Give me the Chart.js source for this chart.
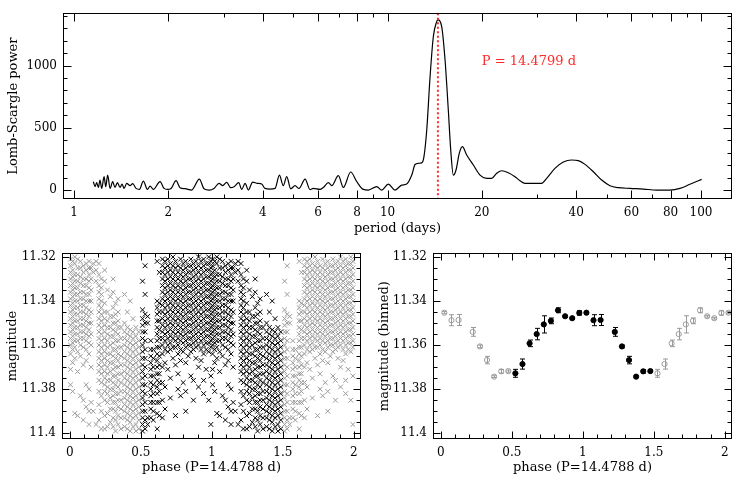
<!DOCTYPE html>
<html>
<head>
    <title>Lomb-Scargle periodogram and phased light curve</title>
    <script src="https://cdn.jsdelivr.net/npm/chart.js"></script>
    <style>
        body {
            margin: 0;
            background: #fff;
            width: 743px;
            height: 486px;
            position: relative;
            overflow: hidden;
        }
        canvas { position: absolute; }
        #periodogram { left: 0; top: 0; }
        #phased { left: 0; top: 240px; }
        #binned { left: 372px; top: 240px; }
    </style>
</head>
<body>
    <canvas id="periodogram" width="743" height="240"></canvas>
    <canvas id="phased" width="372" height="246"></canvas>
    <canvas id="binned" width="371" height="246"></canvas>

    <script>
        // Lomb-Scargle periodogram
        const periodDays = [1.152, 1.167, 1.181, 1.196, 1.210, 1.225, 1.247, 1.262, 1.280, 1.303, 1.328, 1.351, 1.375, 1.402, 1.423, 1.444,
            1.472, 1.509, 1.539, 1.577, 1.616, 1.664, 1.714, 1.748, 1.791, 1.881, 1.937, 1.985, 2.039, 2.116, 2.178, 2.261, 2.373,
            2.510, 2.598, 2.702, 2.796, 2.901, 2.981, 3.069, 3.160, 3.238, 3.353, 3.427, 3.512, 3.598, 3.714, 3.844, 3.968, 4.067,
            4.219, 4.377, 4.52, 4.65, 4.77, 4.91, 5.07, 5.22, 5.46, 5.66, 5.80, 6.09, 6.24, 6.48, 6.64, 6.97, 7.23, 7.63, 7.98,
            8.37, 8.69, 9.24, 9.58, 10.06, 10.57, 11.10, 11.51, 11.95, 12.24, 12.55, 12.90, 13.07, 13.34, 13.67, 14.00, 14.35,
            14.48, 14.89, 15.26, 15.63, 15.91, 16.22, 16.54, 16.94, 17.33, 17.89, 18.79, 19.73, 20.72, 21.49, 22.30, 23.13, 24.29,
            25.51, 26.46, 27.45, 29.19, 31.02, 32.19, 34.21, 36.38, 38.67, 40.61, 42.66, 45.36, 48.22, 51.25, 54.48, 59.36, 65.46,
            72.24, 79.63, 85.7, 92.2, 100.5];
        const lsPower = [67, 27, 59, 21, 80, 13, 107, 27, 120, 13, 67, 21, 59, 21, 48, 13,
            54, 35, 51, 13, 5, 72, 5, 32, 5, 67, 13, 5, 13, 75, 19, 11, 0,
            88, 11, 0, 13, 54, 35, 62, 19, 27, 59, 5, 54, 0, 64, 54, 48, 13,
            8, 13, 120, 35, 108, 10, 35, 13, 88, 3, 13, 5, 21, 59, 35, 115, 21, 145, 67,
            5, 0, 27, 0, 48, 0, 40, 48, 120, 205, 215, 222, 268, 482, 910, 1231, 1352,
            1366, 1312, 1044, 642, 321, 120, 161, 294, 348, 281, 201, 120, 94, 94, 134, 155, 139,
            107, 75, 54, 54, 54, 94, 174, 225, 241, 236, 206, 147, 80, 35, 19, 13, 8,
            0, 0, 13, 46, 86];
        const peakPeriod = 14.4799;
        const labelAt = [20.0, 1030];

        const periodTicks = [1, 2, 4, 6, 8, 10, 20, 40, 60, 80, 100];
        const periodTickLabels = ['1', '2', '4', '6', '8', '10', '20', '40', '60', '80', '100'];
        const periodMinorTicks = [3, 5, 7, 9, 30, 50, 70, 90];
        const powerTicks = [0, 500, 1000];
        const powerTickLabels = ['0', '500', '1000'];
        const powerMinorTicks = [100, 200, 300, 400, 600, 700, 800, 900, 1100, 1200, 1300, 1400];

        // phased light curve, P = 14.4788 d: one streak of points per night
        const foldPeriod = 14.4788;
        const nightPhase = [0.005, 0.020, 0.035, 0.055, 0.075, 0.095, 0.115, 0.135, 0.150, 0.165, 0.185,
            0.205, 0.222, 0.245, 0.265, 0.285, 0.305, 0.322, 0.340, 0.360, 0.385, 0.405, 0.425, 0.445, 0.465, 0.485,
            0.512, 0.530, 0.548, 0.570, 0.588, 0.615, 0.630, 0.652, 0.670, 0.690, 0.708, 0.726, 0.744, 0.762, 0.780,
            0.798, 0.816, 0.834, 0.852, 0.870, 0.888, 0.906, 0.924, 0.942, 0.960, 0.978, 0.993];
        const nightMag = [
            [11.321, 11.324, 11.327, 11.330, 11.333, 11.336, 11.339, 11.342, 11.345, 11.348, 11.351, 11.354, 11.357, 11.360, 11.364, 11.371, 11.378],
            [11.322, 11.326, 11.329, 11.332, 11.335, 11.338, 11.341, 11.344, 11.347, 11.350, 11.353, 11.356, 11.359, 11.362, 11.368, 11.381],
            [11.320, 11.323, 11.328, 11.331, 11.334, 11.337, 11.340, 11.343, 11.346, 11.349, 11.352, 11.355, 11.358, 11.361, 11.366, 11.391],
            [11.321, 11.325, 11.328, 11.331, 11.334, 11.337, 11.340, 11.343, 11.346, 11.349, 11.352, 11.355, 11.358, 11.363, 11.372, 11.392],
            [11.322, 11.325, 11.329, 11.332, 11.336, 11.339, 11.342, 11.345, 11.348, 11.351, 11.354, 11.357, 11.360, 11.365, 11.383],
            [11.324, 11.327, 11.330, 11.333, 11.336, 11.339, 11.342, 11.345, 11.348, 11.351, 11.354, 11.357, 11.361, 11.369, 11.385, 11.394],
            [11.323, 11.326, 11.330, 11.333, 11.337, 11.340, 11.343, 11.346, 11.349, 11.352, 11.355, 11.358, 11.362, 11.367, 11.378, 11.388],
            [11.322, 11.325, 11.328, 11.331, 11.334, 11.337, 11.340, 11.344, 11.347, 11.350, 11.353, 11.356, 11.359, 11.364, 11.380, 11.390, 11.396],
            [11.325, 11.330, 11.335, 11.340, 11.345, 11.350, 11.355, 11.360, 11.370, 11.386],
            [11.323, 11.327, 11.390],
            [11.322, 11.326, 11.331, 11.396],
            [11.323, 11.328, 11.333, 11.336, 11.339, 11.342, 11.345, 11.348, 11.351, 11.354, 11.357, 11.360, 11.363, 11.366, 11.369, 11.372, 11.376, 11.381, 11.387, 11.394],
            [11.330, 11.334, 11.337, 11.340, 11.343, 11.346, 11.349, 11.352, 11.355, 11.358, 11.361, 11.364, 11.367, 11.370, 11.373, 11.377, 11.383, 11.390, 11.398],
            [11.326, 11.331, 11.341, 11.345, 11.348, 11.351, 11.354, 11.357, 11.360, 11.363, 11.366, 11.369, 11.372, 11.375, 11.378, 11.381, 11.385, 11.392, 11.398],
            [11.335, 11.345, 11.349, 11.352, 11.355, 11.358, 11.361, 11.364, 11.367, 11.370, 11.373, 11.376, 11.379, 11.382, 11.386, 11.391, 11.397],
            [11.338, 11.347, 11.352, 11.356, 11.360, 11.364, 11.368, 11.372, 11.376, 11.380, 11.384, 11.389, 11.395],
            [11.330, 11.336, 11.343, 11.347, 11.350, 11.353, 11.356, 11.359, 11.362, 11.365, 11.368, 11.371, 11.374, 11.377, 11.380, 11.383, 11.386, 11.389, 11.393, 11.397],
            [11.341, 11.346, 11.350, 11.354, 11.358, 11.362, 11.366, 11.370, 11.374, 11.378, 11.382, 11.386, 11.390, 11.394, 11.399],
            [11.339, 11.345, 11.349, 11.352, 11.355, 11.358, 11.361, 11.364, 11.367, 11.370, 11.373, 11.376, 11.379, 11.382, 11.385, 11.388, 11.392, 11.396],
            [11.352, 11.357, 11.361, 11.365, 11.369, 11.373, 11.377, 11.381, 11.385, 11.389, 11.393, 11.398],
            [11.337, 11.350, 11.354, 11.357, 11.360, 11.363, 11.366, 11.369, 11.372, 11.375, 11.378, 11.381, 11.384, 11.387, 11.390, 11.393, 11.397],
            [11.345, 11.352, 11.355, 11.358, 11.361, 11.364, 11.367, 11.370, 11.373, 11.376, 11.379, 11.382, 11.385, 11.388, 11.391, 11.394, 11.398],
            [11.340, 11.353, 11.356, 11.359, 11.362, 11.365, 11.368, 11.371, 11.374, 11.377, 11.380, 11.383, 11.386, 11.389, 11.392, 11.395, 11.399],
            [11.348, 11.354, 11.357, 11.360, 11.363, 11.366, 11.369, 11.372, 11.375, 11.378, 11.381, 11.384, 11.387, 11.390, 11.393, 11.397],
            [11.352, 11.356, 11.359, 11.362, 11.365, 11.368, 11.371, 11.374, 11.377, 11.380, 11.383, 11.386, 11.389, 11.392, 11.396, 11.399],
            [11.354, 11.358, 11.361, 11.364, 11.367, 11.370, 11.373, 11.376, 11.379, 11.382, 11.385, 11.388, 11.391, 11.394, 11.398],
            [11.331, 11.344, 11.348, 11.351, 11.354, 11.357, 11.360, 11.363, 11.366, 11.369, 11.372, 11.375, 11.378, 11.381, 11.384, 11.387, 11.390, 11.393, 11.396, 11.399],
            [11.324, 11.337, 11.346, 11.350, 11.354, 11.358, 11.362, 11.366, 11.370, 11.374, 11.378, 11.382, 11.386, 11.390, 11.394, 11.398],
            [11.347, 11.350, 11.393, 11.396],
            [11.358, 11.362, 11.365, 11.368, 11.371, 11.374, 11.377, 11.380, 11.383, 11.386, 11.389, 11.393],
            [11.362, 11.366, 11.370, 11.374, 11.378, 11.382, 11.386, 11.390, 11.394],
            [11.322, 11.340, 11.343, 11.346, 11.349, 11.352, 11.355, 11.358, 11.361, 11.364, 11.367, 11.370, 11.373, 11.376, 11.379, 11.382, 11.386, 11.391, 11.398],
            [11.327, 11.341, 11.345, 11.349, 11.353, 11.357, 11.361, 11.365, 11.369, 11.373, 11.377, 11.381, 11.386, 11.392],
            [11.321, 11.324, 11.327, 11.330, 11.333, 11.336, 11.339, 11.342, 11.345, 11.348, 11.351, 11.354, 11.357, 11.360, 11.364, 11.370, 11.377, 11.385, 11.393],
            [11.322, 11.325, 11.328, 11.331, 11.334, 11.337, 11.340, 11.343, 11.346, 11.349, 11.352, 11.355, 11.358, 11.362, 11.368, 11.379, 11.389],
            [11.321, 11.324, 11.327, 11.330, 11.333, 11.336, 11.339, 11.342, 11.345, 11.348, 11.351, 11.354, 11.357, 11.360, 11.363, 11.371],
            [11.323, 11.326, 11.329, 11.332, 11.335, 11.338, 11.341, 11.344, 11.347, 11.350, 11.353, 11.356, 11.359, 11.362, 11.375, 11.384],
            [11.320, 11.324, 11.327, 11.330, 11.333, 11.336, 11.339, 11.342, 11.345, 11.348, 11.351, 11.354, 11.357, 11.361, 11.366],
            [11.322, 11.325, 11.328, 11.331, 11.334, 11.337, 11.340, 11.343, 11.346, 11.349, 11.352, 11.355, 11.358, 11.361, 11.369, 11.392],
            [11.324, 11.327, 11.330, 11.333, 11.336, 11.339, 11.342, 11.345, 11.348, 11.351, 11.354, 11.357, 11.360, 11.364, 11.373, 11.380],
            [11.321, 11.325, 11.328, 11.331, 11.334, 11.337, 11.340, 11.343, 11.346, 11.349, 11.352, 11.355, 11.358, 11.362, 11.367, 11.383],
            [11.323, 11.326, 11.329, 11.332, 11.335, 11.338, 11.341, 11.344, 11.347, 11.350, 11.353, 11.356, 11.359, 11.363, 11.377],
            [11.322, 11.325, 11.328, 11.331, 11.334, 11.337, 11.340, 11.343, 11.346, 11.349, 11.352, 11.355, 11.358, 11.361, 11.368, 11.381, 11.390],
            [11.324, 11.327, 11.330, 11.333, 11.336, 11.339, 11.342, 11.345, 11.348, 11.351, 11.354, 11.357, 11.360, 11.365],
            [11.321, 11.324, 11.327, 11.330, 11.333, 11.336, 11.339, 11.342, 11.345, 11.348, 11.351, 11.354, 11.357, 11.360, 11.363, 11.374],
            [11.323, 11.326, 11.329, 11.332, 11.335, 11.338, 11.341, 11.344, 11.347, 11.350, 11.353, 11.356, 11.359, 11.362, 11.376, 11.385],
            [11.322, 11.325, 11.328, 11.331, 11.334, 11.337, 11.340, 11.343, 11.346, 11.349, 11.352, 11.355, 11.358, 11.361, 11.366],
            [11.320, 11.324, 11.327, 11.330, 11.333, 11.336, 11.339, 11.342, 11.345, 11.348, 11.351, 11.354, 11.357, 11.360, 11.370, 11.379],
            [11.322, 11.325, 11.328, 11.331, 11.334, 11.337, 11.340, 11.343, 11.346, 11.349, 11.352, 11.355, 11.358, 11.362, 11.367],
            [11.321, 11.324, 11.327, 11.330, 11.333, 11.336, 11.339, 11.342, 11.345, 11.348, 11.351, 11.354, 11.357, 11.360, 11.364, 11.376, 11.382],
            [11.323, 11.326, 11.329, 11.332, 11.335, 11.338, 11.341, 11.344, 11.347, 11.350, 11.353, 11.356, 11.359, 11.362, 11.371],
            [11.320, 11.323, 11.326, 11.329, 11.332, 11.335, 11.338, 11.341, 11.344, 11.347, 11.350, 11.353, 11.356, 11.359, 11.363, 11.385],
            [11.322, 11.325, 11.328, 11.331, 11.334, 11.337, 11.340, 11.343, 11.346, 11.349, 11.352, 11.355, 11.358, 11.361, 11.374, 11.396]
        ];

        // binned light curve (bins of 0.05 in phase, none at 0.175)
        const binPhase = [0.025, 0.075, 0.125, 0.225, 0.275, 0.325, 0.375, 0.425, 0.475,
            0.525, 0.575, 0.625, 0.675, 0.725, 0.775, 0.825, 0.875, 0.925, 0.975];
        const binMag = [11.3453, 11.3487, 11.3486, 11.3540, 11.3606, 11.3668, 11.3743, 11.3719, 11.3718,
            11.3728, 11.3686, 11.3592, 11.3550, 11.3506, 11.3490, 11.3442, 11.3469, 11.3478, 11.3454];
        const binErr = [0.0005, 0.0025, 0.0025, 0.0020, 0.0006, 0.0017, 0.0004, 0.0008, 0.0005,
            0.0018, 0.0023, 0.0015, 0.0026, 0.0039, 0.0013, 0.0011, 0.0004, 0.0004, 0.0010];

        const phaseMin = -0.055, phaseMax = 2.05;
        const phaseTicks = [0, 0.5, 1, 1.5, 2];
        const phaseTickLabels = ['0', '0.5', '1', '1.5', '2'];
        const phaseMinorTicks = [0.1, 0.2, 0.3, 0.4, 0.6, 0.7, 0.8, 0.9, 1.1, 1.2, 1.3, 1.4, 1.6, 1.7, 1.8, 1.9];
        const magTicks = [11.32, 11.34, 11.36, 11.38, 11.4];
        const magTickLabels = ['11.32', '11.34', '11.36', '11.38', '11.4'];
        const magMinorTicks = [11.325, 11.33, 11.335, 11.345, 11.35, 11.355, 11.365, 11.37, 11.375, 11.385, 11.39, 11.395];

        const GREY = '#9a9a9a';
        const RED = '#ff2a2a';

        Chart.defaults.font.family = '"DejaVu Serif", serif';
        Chart.defaults.color = '#000';

        // box round the plot with inward ticks on all four sides
        function frame(spec) {
            return {
                id: 'frame',
                afterDraw(chart) {
                    const { ctx, chartArea: a, scales: { x, y } } = chart;
                    const L = Math.round(a.left) + 0.5, R = Math.round(a.right) - 0.5;
                    const T = Math.round(a.top) + 0.5, B = Math.round(a.bottom) - 0.5;
                    ctx.save();
                    ctx.strokeStyle = '#000';
                    ctx.lineWidth = 1;
                    ctx.strokeRect(L, T, R - L, B - T);
                    ctx.beginPath();
                    const xt = (v, len) => {
                        const px = Math.round(x.getPixelForValue(v)) + 0.5;
                        ctx.moveTo(px, B); ctx.lineTo(px, B - len);
                        ctx.moveTo(px, T); ctx.lineTo(px, T + len);
                    };
                    const yt = (v, len) => {
                        const py = Math.round(y.getPixelForValue(v)) + 0.5;
                        ctx.moveTo(L, py); ctx.lineTo(L + len, py);
                        ctx.moveTo(R, py); ctx.lineTo(R - len, py);
                    };
                    spec.xMajor.forEach(v => xt(v, spec.major));
                    spec.xMinor.forEach(v => xt(v, spec.minor));
                    spec.yMajor.forEach(v => yt(v, spec.major));
                    spec.yMinor.forEach(v => yt(v, spec.minor));
                    ctx.stroke();
                    ctx.restore();
                }
            };
        }

        const periodMarker = {
            id: 'periodMarker',
            afterDatasetsDraw(chart) {
                const { ctx, chartArea: a, scales: { x, y } } = chart;
                const px = x.getPixelForValue(peakPeriod);
                ctx.save();
                ctx.strokeStyle = RED;
                ctx.lineWidth = 2;
                ctx.setLineDash([2, 2.5]);
                ctx.beginPath();
                ctx.moveTo(px, a.top);
                ctx.lineTo(px, a.bottom);
                ctx.stroke();
                ctx.fillStyle = RED;
                ctx.font = '13px "DejaVu Serif", serif';
                ctx.textBaseline = 'middle';
                ctx.fillText(`P = ${peakPeriod} d`, x.getPixelForValue(labelAt[0]), y.getPixelForValue(labelAt[1]));
                ctx.restore();
            }
        };

        const errorBars = {
            id: 'errorBars',
            beforeDatasetsDraw(chart) {
                const { ctx, scales: { x, y } } = chart;
                ctx.save();
                ctx.lineWidth = 1;
                chart.data.datasets.forEach(ds => {
                    ctx.strokeStyle = ds.borderColor;
                    ctx.beginPath();
                    ds.data.forEach(p => {
                        const px = Math.round(x.getPixelForValue(p.x)) + 0.5;
                        const y1 = y.getPixelForValue(p.y - p.e), y2 = y.getPixelForValue(p.y + p.e);
                        ctx.moveTo(px, y1); ctx.lineTo(px, y2);
                        ctx.moveTo(px - 2.5, y1); ctx.lineTo(px + 2.5, y1);
                        ctx.moveTo(px - 2.5, y2); ctx.lineTo(px + 2.5, y2);
                    });
                    ctx.stroke();
                });
                ctx.restore();
            }
        };

        const noGrid = { display: false, drawTicks: false };

        function phaseAxis() {
            return {
                type: 'linear', min: phaseMin, max: phaseMax,
                grid: noGrid, border: { display: false },
                afterBuildTicks: s => { s.ticks = phaseTicks.map(v => ({ value: v })); },
                afterFit: s => { s.height = 47; },
                ticks: { autoSkip: false, maxRotation: 0, padding: 7, font: { size: 12 }, callback: (v, i) => phaseTickLabels[i] },
                title: { display: true, text: `phase (P=${foldPeriod} d)`, font: { size: 13 }, padding: { top: 0, bottom: 11 } }
            };
        }

        function magAxis(label, width) {
            return {
                type: 'linear', reverse: true, min: 11.3183, max: 11.4026,
                grid: noGrid, border: { display: false },
                afterBuildTicks: s => { s.ticks = magTicks.map(v => ({ value: v })); },
                afterFit: s => { s.width = width; },
                ticks: { autoSkip: false, padding: 6, font: { size: 12 }, callback: (v, i) => magTickLabels[i] },
                title: { display: true, text: label, font: { size: 13 }, padding: { top: 5, bottom: 0 } }
            };
        }

        const baseOptions = {
            responsive: false,
            animation: false,
            events: [],
            plugins: { legend: { display: false }, tooltip: { enabled: false } }
        };

        // top: periodogram
        new Chart(document.getElementById('periodogram'), {
            type: 'scatter',
            data: {
                datasets: [{
                    data: periodDays.map((p, i) => ({ x: p, y: lsPower[i] })),
                    showLine: true,
                    borderColor: '#000',
                    borderWidth: 1.2,
                    pointRadius: 0,
                    cubicInterpolationMode: 'monotone'
                }]
            },
            options: {
                ...baseOptions,
                layout: { padding: { left: 0, right: 11, top: 13, bottom: 0 } },
                scales: {
                    x: {
                        type: 'logarithmic', min: 0.922, max: 125.6,
                        grid: noGrid, border: { display: false },
                        afterBuildTicks: s => { s.ticks = periodTicks.map(v => ({ value: v })); },
                        afterFit: s => { s.height = 41; },
                        ticks: { autoSkip: false, maxRotation: 0, padding: 7, font: { size: 12 }, callback: (v, i) => periodTickLabels[i] },
                        title: { display: true, text: 'period (days)', font: { size: 13 }, padding: { top: 0, bottom: 4 } }
                    },
                    y: {
                        type: 'linear', min: -72, max: 1420,
                        grid: noGrid, border: { display: false },
                        afterBuildTicks: s => { s.ticks = powerTicks.map(v => ({ value: v })); },
                        afterFit: s => { s.width = 63; },
                        ticks: { autoSkip: false, padding: 6, font: { size: 12 }, callback: (v, i) => powerTickLabels[i] },
                        title: { display: true, text: 'Lomb-Scargle power', font: { size: 13 }, padding: { top: 6, bottom: 0 } }
                    }
                }
            },
            plugins: [periodMarker, frame({ xMajor: periodTicks, xMinor: periodMinorTicks, yMajor: powerTicks, yMinor: powerMinorTicks, major: 8, minor: 4 })]
        });

        // bottom left: every measurement folded on the period, phase 0.5-1.5 in black
        const obsBlack = [], obsGrey = [];
        nightPhase.forEach((p, i) => nightMag[i].forEach(m => {
            if (p >= 0.5) { obsBlack.push({ x: p, y: m }); obsGrey.push({ x: p + 1, y: m }); }
            else { obsBlack.push({ x: p + 1, y: m }); obsGrey.push({ x: p, y: m }); }
        }));

        new Chart(document.getElementById('phased'), {
            type: 'scatter',
            data: {
                datasets: [
                    { data: obsGrey, pointStyle: 'crossRot', pointRadius: 3.4, borderWidth: 1, borderColor: GREY },
                    { data: obsBlack, pointStyle: 'crossRot', pointRadius: 3.4, borderWidth: 1, borderColor: '#000' }
                ]
            },
            options: {
                ...baseOptions,
                layout: { padding: { left: 0, right: 11, top: 13, bottom: 0 } },
                scales: { x: phaseAxis(), y: magAxis('magnitude', 62) }
            },
            plugins: [frame({ xMajor: phaseTicks, xMinor: phaseMinorTicks, yMajor: magTicks, yMinor: magMinorTicks, major: 7, minor: 4 })]
        });

        // bottom right: binned light curve with errors
        const binBlack = [], binGrey = [];
        binPhase.forEach((p, i) => {
            const pt = x => ({ x, y: binMag[i], e: binErr[i] });
            if (p >= 0.5) { binBlack.push(pt(p)); binGrey.push(pt(p + 1)); }
            else {
                binBlack.push(pt(p + 1));
                binGrey.push(pt(p));
                if (p + 2 <= phaseMax) binGrey.push(pt(p + 2));
            }
        });

        new Chart(document.getElementById('binned'), {
            type: 'scatter',
            data: {
                datasets: [
                    { data: binGrey, pointStyle: 'circle', pointRadius: 2.6, borderWidth: 1, borderColor: GREY, backgroundColor: 'rgba(0,0,0,0)' },
                    { data: binBlack, pointStyle: 'circle', pointRadius: 2.6, borderWidth: 1, borderColor: '#000', backgroundColor: '#000' }
                ]
            },
            options: {
                ...baseOptions,
                layout: { padding: { left: 0, right: 11, top: 13, bottom: 0 } },
                scales: { x: phaseAxis(), y: magAxis('magnitude (binned)', 61) }
            },
            plugins: [errorBars, frame({ xMajor: phaseTicks, xMinor: phaseMinorTicks, yMajor: magTicks, yMinor: magMinorTicks, major: 7, minor: 4 })]
        });
    </script>
</body>
</html>
